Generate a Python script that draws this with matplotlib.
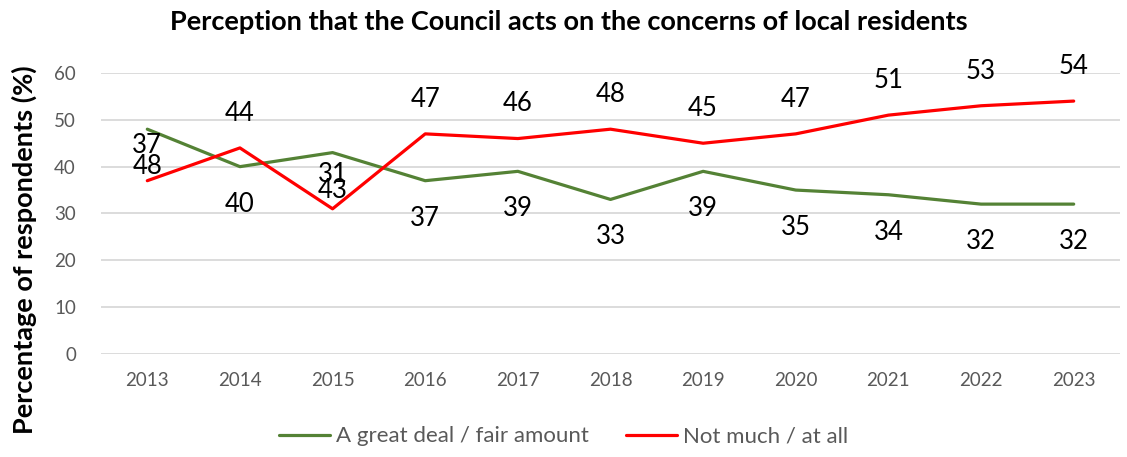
import matplotlib
matplotlib.use("Agg")
import matplotlib.pyplot as plt

years = ["2013", "2014", "2015", "2016", "2017", "2018", "2019", "2020", "2021", "2022", "2023"]
great_deal = [48, 40, 43, 37, 39, 33, 39, 35, 34, 32, 32]
not_much = [37, 44, 31, 47, 46, 48, 45, 47, 51, 53, 54]

plt.rcParams["font.family"] = ["Lato", "DejaVu Sans"]

fig = plt.figure(figsize=(11.27, 4.57), dpi=100)
ax = fig.add_axes([0.0896, 0.2254, 0.9042, 0.6149])

x = list(range(len(years)))
green = "#548235"
red = "#FF0000"
ax.plot(x, great_deal, color=green, lw=2.3, label="A great deal / fair amount", solid_capstyle="round")
ax.plot(x, not_much, color=red, lw=2.3, label="Not much / at all", solid_capstyle="round")

for xi, v in zip(x, great_deal):
    ax.annotate(str(v), (xi, v), xytext=(0, -27), textcoords="offset points",
                ha="center", va="center", fontsize=18.5, color="black")
for xi, v in zip(x, not_much):
    ax.annotate(str(v), (xi, v), xytext=(0, 25), textcoords="offset points",
                ha="center", va="center", fontsize=18.5, color="black")

ax.set_xlim(-0.5, len(years) - 0.5)
ax.set_ylim(0, 60)
ax.set_yticks(range(0, 61, 10))
ax.set_xticks(x)
ax.set_xticklabels(years)
ax.tick_params(axis="both", length=0, labelsize=13.5, colors="#595959")
ax.tick_params(axis="x", pad=13)
ax.tick_params(axis="y", pad=18)
ax.grid(axis="y", color="#d9d9d9", lw=1.3)
ax.set_axisbelow(True)
for s in ax.spines.values():
    s.set_visible(False)

ax.set_ylabel("Percentage of respondents (%)", fontsize=19.5, fontweight="bold", color="black",
              va="center")
ax.yaxis.set_label_coords(-0.075, 0.37)

fig.suptitle("Perception that the Council acts on the concerns of local residents",
             x=0.505, y=0.952, va="center", fontsize=19.5, fontweight="bold")

leg = fig.legend(loc="center", bbox_to_anchor=(0.5, 0.045), ncol=2, frameon=False,
                 fontsize=16, handlelength=2.3, handletextpad=0.25, columnspacing=1.7)
for t in leg.get_texts():
    t.set_color("#595959")

fig.savefig("out.png", dpi=100)
